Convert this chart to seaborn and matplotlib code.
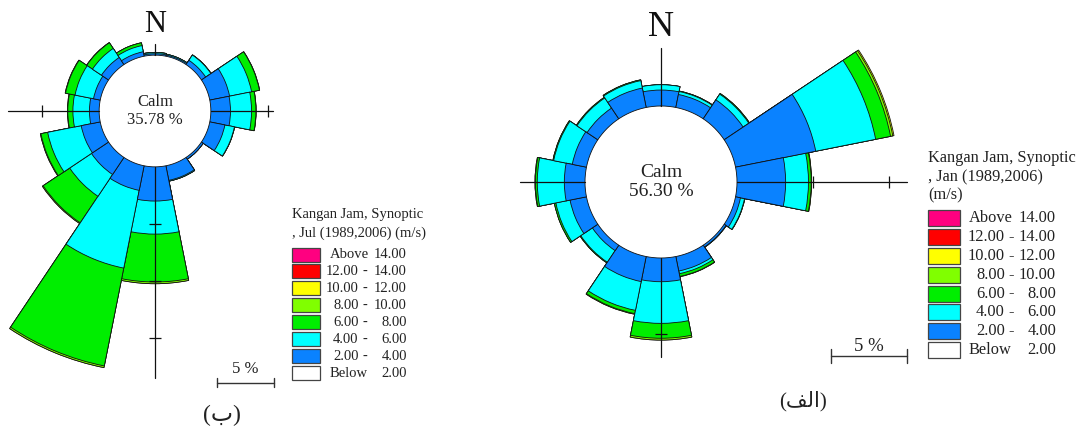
import numpy as np
import pandas as pd
import matplotlib
matplotlib.use("Agg")
import matplotlib.pyplot as plt
from matplotlib.patches import Rectangle
from matplotlib.lines import Line2D
import seaborn as sns

# ---------------------------------------------------------------- data
directions = ["N", "NNE", "NE", "ENE", "E", "ESE", "SE", "SSE",
              "S", "SSW", "SW", "WSW", "W", "WNW", "NW", "NNW"]
speed_edges = [2.0, 4.0, 6.0, 8.0, 10.0, 12.0, 14.0]

# Kangan Jam, July: frequency (%) by direction for each speed class (m/s)
jul_2_4 = [0.12, 0.10, 0.45, 1.77, 1.72, 1.35, 0.18, 1.30,
           3.00, 2.20, 1.80, 1.70, 0.85, 0.60, 0.75, 0.40]
jul_4_6 = [0.10, 0.08, 0.55, 1.97, 1.85, 0.85, 0.00, 0.07,
           2.90, 6.95, 2.30, 3.00, 1.45, 1.65, 0.95, 0.55]
jul_6_8 = [0.02, 0.00, 0.02, 0.70, 0.38, 0.02, 0.00, 0.00,
           4.20, 8.75, 2.80, 0.60, 0.45, 0.85, 0.60, 0.25]
jul_8_10 = [0.00, 0.00, 0.00, 0.02, 0.02, 0.00, 0.00, 0.00,
            0.15, 0.15, 0.08, 0.05, 0.03, 0.03, 0.02, 0.00]
jul_10_12 = [0.0] * 16
jul_calm = 35.78

# Kangan Jam, January
jan_2_4 = [1.05, 0.87, 1.50, 5.38, 3.20, 0.33, 0.14, 0.97,
           1.56, 1.68, 0.43, 1.10, 1.36, 0.95, 0.85, 1.30]
jan_4_6 = [0.35, 0.20, 0.45, 4.02, 1.50, 0.27, 0.02, 0.18,
           2.74, 1.93, 0.92, 0.95, 1.78, 1.25, 0.80, 0.50]
jan_6_8 = [0.00, 0.03, 0.05, 1.00, 0.18, 0.02, 0.00, 0.18,
           0.98, 0.22, 0.05, 0.10, 0.12, 0.05, 0.05, 0.05]
jan_8_10 = [0.00, 0.00, 0.00, 0.15, 0.03, 0.00, 0.00, 0.02,
            0.12, 0.04, 0.00, 0.00, 0.03, 0.00, 0.00, 0.00]
jan_10_12 = [0.00, 0.00, 0.00, 0.08, 0.00, 0.00, 0.00, 0.00,
             0.00, 0.00, 0.00, 0.00, 0.00, 0.00, 0.00, 0.00]
jan_calm = 56.30

# speed class colours: below 2, 2-4, 4-6, 6-8, 8-10, 10-12, 12-14, above 14
class_colors = ["#FFFFFF", "#0A82FF", "#00FFFF", "#00EE00",
                "#80FF00", "#FFFF00", "#FF0000", "#FF0080"]

# ---------------------------------------------------------------- style
sns.set_theme(style="white")
plt.rcParams["font.family"] = ["Liberation Serif", "DejaVu Serif"]
SERIF = ["Liberation Serif", "DejaVu Serif"]
TXT = "#222222"
EDGE = "#111111"

W, H = 1083, 426
fig = plt.figure(figsize=(W / 100, H / 100), dpi=100)
fig.patch.set_facecolor("white")


def fx(x):
    return x / W


def fy(y):
    return 1.0 - y / H


class_keys = [f"{speed_edges[i]:.2f}-{speed_edges[i + 1]:.2f}" for i in range(5)]


def draw_rose(classes, calm, cx, cy, k, r0, rlim, arms, n_size, n_y,
              calm_size, calm_ls):
    """classes: list of per-direction frequency lists, slowest first.
    k: pixels per percent, r0: calm circle radius in percent units."""
    rpx = rlim * k
    ax = fig.add_axes([fx(cx - rpx), fy(cy + rpx), 2 * rpx / W, 2 * rpx / H],
                      projection="polar")
    ax.set_theta_zero_location("N")
    ax.set_theta_direction(-1)

    theta = np.arange(len(directions)) * 2 * np.pi / len(directions)
    cum = np.cumsum(np.array(classes, dtype=float), axis=0)
    rows = []
    for b in range(len(classes)):
        for i, d in enumerate(directions):
            rows.append({"theta": theta[i], "radius": r0 + cum[b, i],
                         "speed": class_keys[b], "dir": d})
    df = pd.DataFrame(rows)
    palette = {class_keys[b]: class_colors[b + 1] for b in range(len(classes))}
    # outer classes first, inner classes painted over them
    order = list(reversed(class_keys[:len(classes)]))
    sns.barplot(data=df, x="theta", y="radius", hue="speed", hue_order=order,
                palette=palette, native_scale=True, dodge=False, width=1.0,
                saturation=1, edgecolor=EDGE, linewidth=0.6, errorbar=None,
                legend=False, orient="x", ax=ax)

    # calm disc
    ax.bar(0, r0, width=2 * np.pi, bottom=0, color="white",
           edgecolor="none", zorder=3)
    ring = np.linspace(0, 2 * np.pi, 721)
    ax.plot(ring, np.full_like(ring, r0), color=EDGE, lw=0.6, zorder=3.5)

    # axis arms with 5 % ticks
    for ang_deg, length_px in arms:
        ang = np.deg2rad(ang_deg)
        r_end = length_px / k
        ax.plot([ang, ang], [r0, r_end], color="#111111", lw=0.9,
                zorder=5, clip_on=False)
        marker = "_" if ang_deg in (0, 180) else "|"
        tr = [r0 + 5 * m for m in range(1, 6) if r0 + 5 * m <= r_end]
        if tr:
            ax.plot([ang] * len(tr), tr, ls="none", marker=marker,
                    markersize=9, markeredgewidth=0.9, color="#111111",
                    zorder=5, clip_on=False)

    ax.text(0, 0, f"Calm\n{calm:.2f} %", ha="center", va="center",
            fontsize=calm_size, color=TXT, family=SERIF,
            linespacing=calm_ls, zorder=6)

    ax.set_thetalim(0, 2 * np.pi)
    ax.set_ylim(0, rlim)
    ax.set_axis_off()

    fig.text(fx(cx), fy(n_y), "N", ha="center", va="center",
             fontsize=n_size, color="#111111", family=SERIF)
    return ax


def draw_scale(x0, y0, k, tick_h, label_y, size):
    length = 5 * k
    fig.add_artist(Line2D([fx(x0), fx(x0 + length)], [fy(y0), fy(y0)],
                          color="#333333", lw=1.0))
    for xx in (x0, x0 + length):
        fig.add_artist(Line2D([fx(xx), fx(xx)],
                              [fy(y0 - tick_h), fy(y0 + tick_h)],
                              color="#333333", lw=1.0))
    fig.text(fx(x0 + length / 2), fy(label_y), "5 %", ha="center",
             va="center", fontsize=size, color=TXT, family=SERIF)


def draw_legend(title_lines, x0, y_title, dy_title, y_first, dy, sw_w, sw_h,
                x_word, x_col1, x_dash, x_col2, size):
    for j, line in enumerate(title_lines):
        fig.text(fx(x0), fy(y_title + j * dy_title), line, ha="left",
                 va="center", fontsize=size, color=TXT, family=SERIF)
    n = len(class_colors)
    for j in range(n):
        c = n - 1 - j  # fastest class on top
        yc = y_first + j * dy
        fig.add_artist(Rectangle((fx(x0), fy(yc + sw_h / 2)), sw_w / W,
                                 sw_h / H, transform=fig.transFigure,
                                 facecolor=class_colors[c],
                                 edgecolor="#444444", lw=0.9))
        kw = dict(va="center", fontsize=size, color=TXT, family=SERIF)
        if c == n - 1:
            fig.text(fx(x_word), fy(yc), "Above", ha="left", **kw)
            fig.text(fx(x_col2), fy(yc), f"{speed_edges[-1]:.2f}",
                     ha="right", **kw)
        elif c == 0:
            fig.text(fx(x_word), fy(yc), "Below", ha="left", **kw)
            fig.text(fx(x_col2), fy(yc), f"{speed_edges[0]:.2f}",
                     ha="right", **kw)
        else:
            fig.text(fx(x_col1), fy(yc), f"{speed_edges[c - 1]:.2f}",
                     ha="right", **kw)
            fig.text(fx(x_dash), fy(yc), "-", ha="center", **kw)
            fig.text(fx(x_col2), fy(yc), f"{speed_edges[c]:.2f}",
                     ha="right", **kw)


# ---------------------------------------------------------------- July rose
jul_classes = [jul_2_4, jul_4_6, jul_6_8, jul_8_10, jul_10_12]
draw_rose(jul_classes, jul_calm, cx=155, cy=111, k=11.4, r0=4.9, rlim=24,
          arms=[(0, 67), (90, 118), (180, 267), (270, 147)],
          n_size=22, n_y=24, calm_size=12, calm_ls=1.2)
draw_scale(x0=217, y0=382.5, k=11.4, tick_h=4.5, label_y=369, size=12)
draw_legend(["Kangan Jam, Synoptic", ", Jul (1989,2006) (m/s)"],
            x0=292, y_title=215, dy_title=18, y_first=254.5, dy=16.95,
            sw_w=28, sw_h=14, x_word=329.5, x_col1=358.5, x_dash=365,
            x_col2=407, size=10.5)
fig.text(fx(221.5), fy(415), "(ب)", ha="center", va="center",
         fontsize=17, color=TXT, family=["Liberation Serif", "DejaVu Sans"])

# ---------------------------------------------------------------- January rose
jan_classes = [jan_2_4, jan_4_6, jan_6_8, jan_8_10, jan_10_12]
draw_rose(jan_classes, jan_calm, cx=661, cy=182, k=15.2, r0=5.0, rlim=17,
          arms=[(0, 134), (90, 246), (180, 175), (270, 141)],
          n_size=26, n_y=27, calm_size=14, calm_ls=1.1)
draw_scale(x0=831, y0=356, k=15.2, tick_h=7, label_y=346.5, size=13.5)
draw_legend(["Kangan Jam, Synoptic", ", Jan (1989,2006)", "(m/s)"],
            x0=928, y_title=158.5, dy_title=18.4, y_first=218.3, dy=18.8,
            sw_w=32, sw_h=16, x_word=968.5, x_col1=1005, x_dash=1011.5,
            x_col2=1056, size=11.8)
fig.text(fx(803), fy(401), "(\ufed2\ufedf\u0627)", ha="center", va="center",
         fontsize=15, color=TXT, family=["Liberation Serif", "DejaVu Sans"])

fig.savefig("out.png", dpi=100, facecolor="white")
